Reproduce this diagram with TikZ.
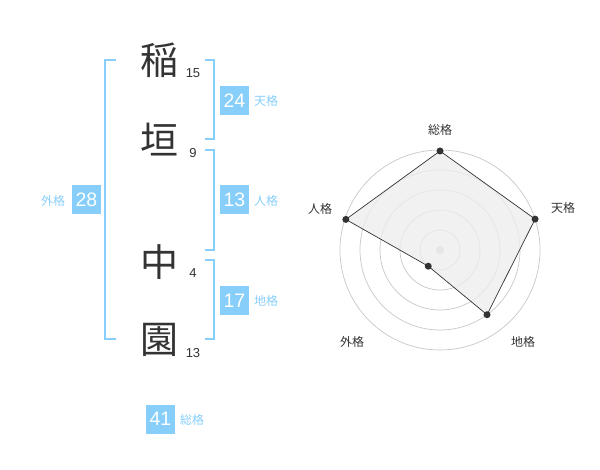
\documentclass[tikz,border=0pt]{standalone}
\usepackage{fontspec}
\setmainfont{Liberation Sans}
\newfontfamily\jp{Noto Sans CJK JP}
\usetikzlibrary{calc}
\definecolor{sky}{HTML}{87CEFA}
\definecolor{ink}{HTML}{333333}
\begin{document}
\begin{tikzpicture}[
    x=1pt, y=-1pt,
    kanji/.style={font=\jp\fontsize{38}{38}\selectfont, text=ink, inner sep=0pt},
    strokes/.style={font=\fontsize{13}{13}\selectfont, text=ink, inner sep=0pt},
    score/.style={fill=sky, text=white, minimum width=29pt, minimum height=29pt, inner sep=0pt, font=\fontsize{19.5}{19.5}\selectfont},
    kaku/.style={font=\jp\fontsize{12}{12}\selectfont, text=sky, inner sep=0pt},
    bracket/.style={draw=sky, line width=2pt},
    ring/.style={draw=black!22, line width=0.7pt},
    axis/.style={font=\jp\fontsize{12}{12}\selectfont, text=ink, inner sep=0pt},
    dot/.style={circle, fill=ink, inner sep=0pt, minimum size=7pt}
]
\useasboundingbox (0,0) rectangle (600,470);

% Name
\node[kanji] (c1) at (159,60) {稲};
\node[kanji] (c2) at (159,140) {垣};
\node[kanji] (c3) at (159,262) {中};
\node[kanji] (c4) at (159,340) {園};
\node[strokes] (s1) at (193,73) {15};
\node[strokes] (s2) at (193,153) {9};
\node[strokes] (s3) at (193,273) {4};
\node[strokes] (s4) at (193,353) {13};

% Brackets
\draw[bracket] (116,60) -- (105,60) -- (105,339) -- (116,339);
\draw[bracket] (205,60) -- (214,60) -- (214,139) -- (205,139);
\draw[bracket] (205,150) -- (214,150) -- (214,250) -- (205,250);
\draw[bracket] (205,260) -- (214,260) -- (214,339) -- (205,339);

% Scores
\node[score] (ten) at (234.5,100.5) {24};
\node[kaku] at (266,101) {天格};
\node[score] (jin) at (234.5,200) {13};
\node[kaku] at (266,201) {人格};
\node[score] (chi) at (234.5,300.5) {17};
\node[kaku] at (266,301) {地格};
\node[score] (gai) at (86.5,200) {28};
\node[kaku] at (53,201) {外格};
\node[score] (sou) at (160.5,419) {41};
\node[kaku] at (192,420) {総格};

% Radar chart
\coordinate (center) at (440,250);
\foreach \r in {20,40,60,80,100}
    \draw[ring] (center) circle (\r);
\fill[black!20] (center) circle (4);
\coordinate (psou) at ($(center)+(-90:99)$);
\coordinate (pten) at ($(center)+(-18:100)$);
\coordinate (pchi) at ($(center)+(54:80)$);
\coordinate (pgai) at ($(center)+(126:20)$);
\coordinate (pjin) at ($(center)+(198:99)$);
\draw[fill=black!7, fill opacity=0.8, draw=ink, line width=0.7pt]
    (psou) -- (pten) -- (pchi) -- (pgai) -- (pjin) -- cycle;
\foreach \p in {psou,pten,pchi,pgai,pjin}
    \node[dot] at (\p) {};
\node[axis] (lsou) at (440,130) {総格};
\node[axis] (lten) at (563,208) {天格};
\node[axis] (ljin) at (320,209) {人格};
\node[axis] (lgai) at (352,342) {外格};
\node[axis] (lchi) at (523,342) {地格};

\end{tikzpicture}
\end{document}
